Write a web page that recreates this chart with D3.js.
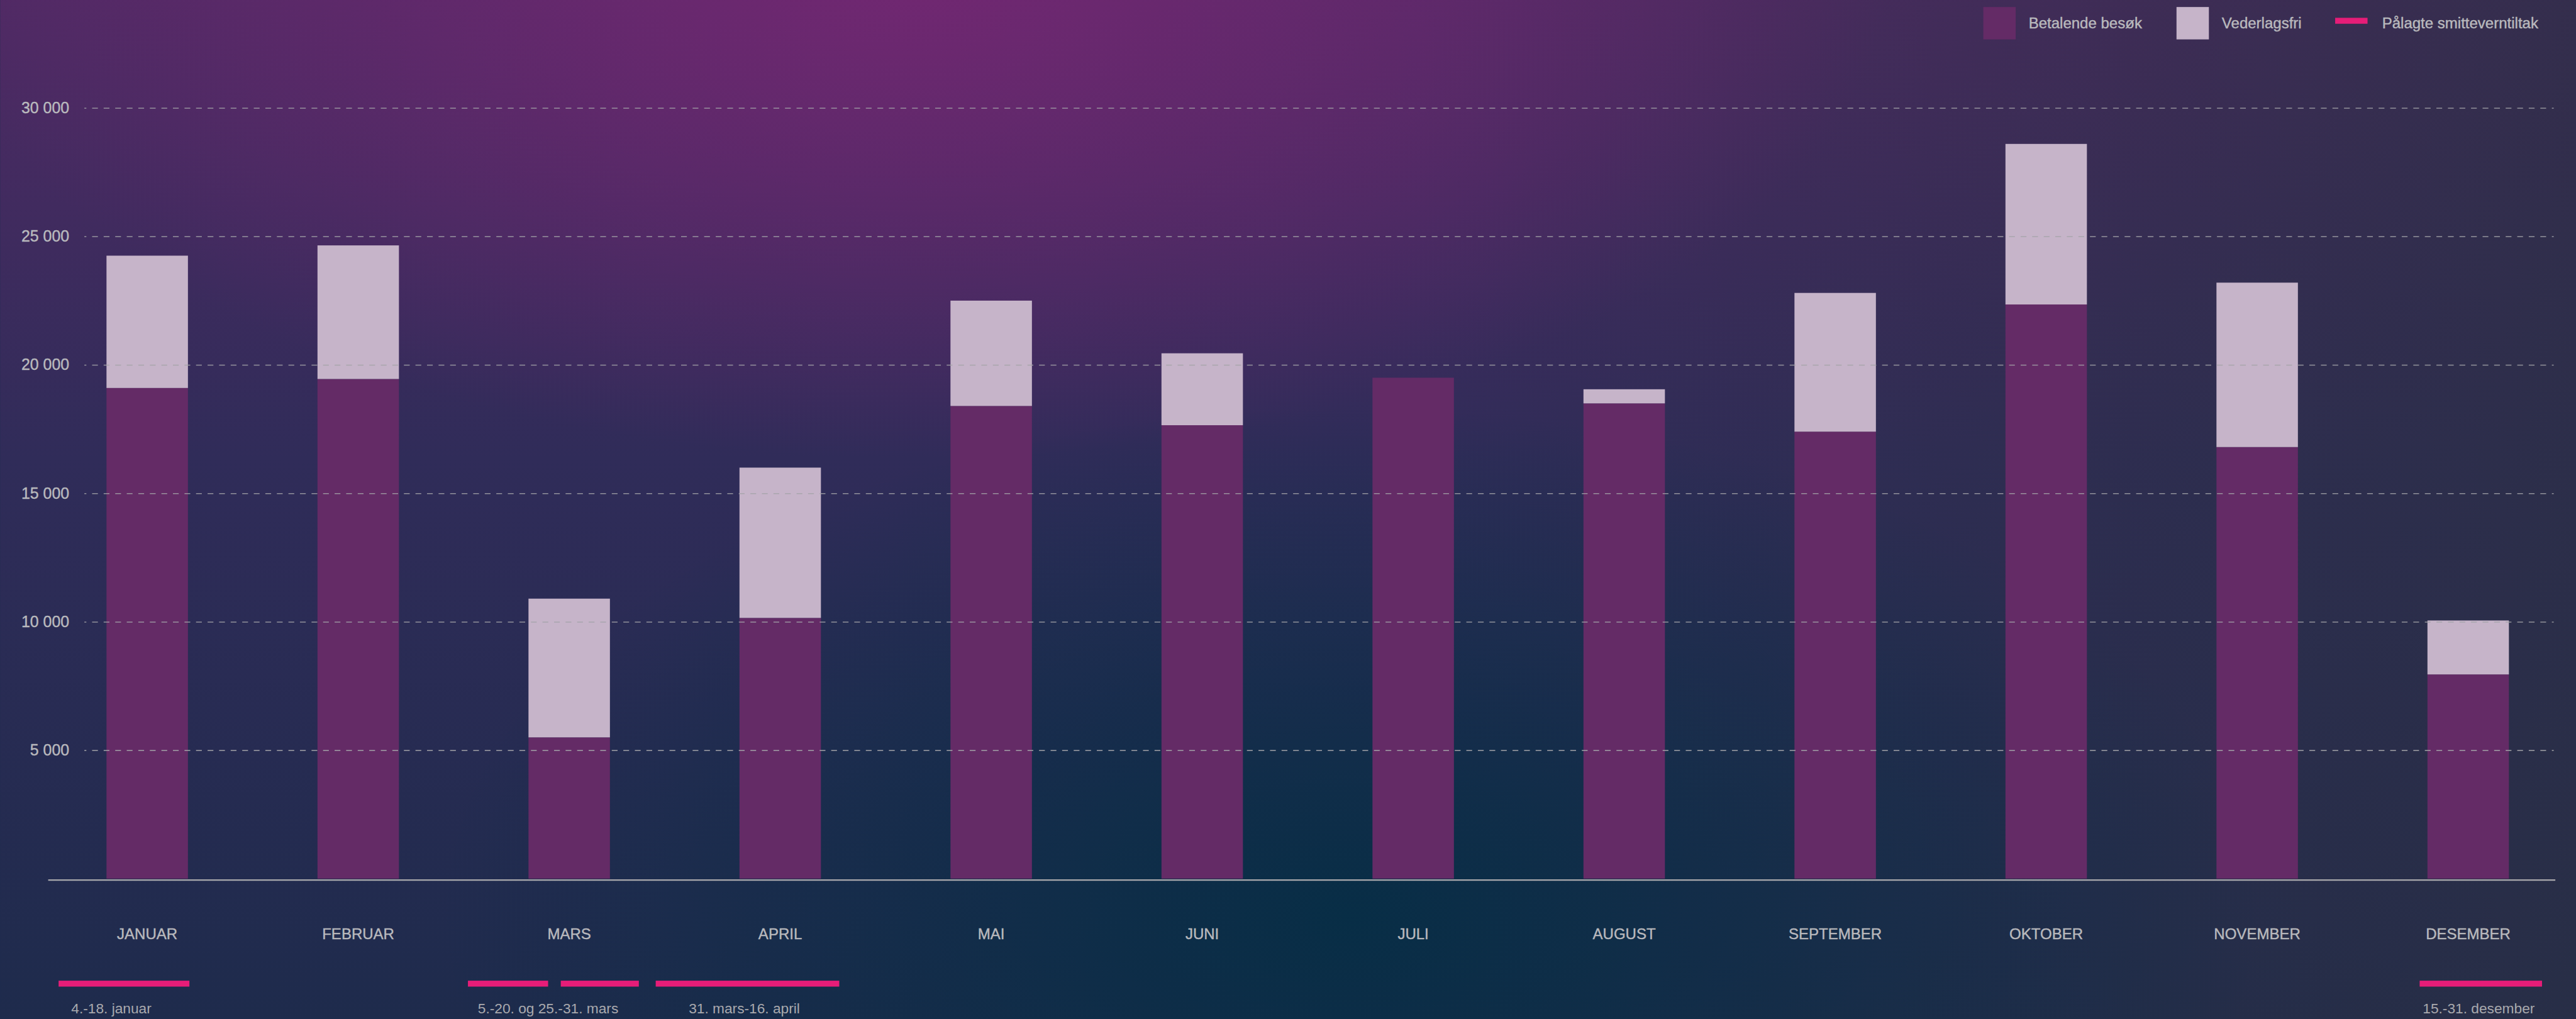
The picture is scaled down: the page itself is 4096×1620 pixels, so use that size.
<!DOCTYPE html>
<html>
<head>
<meta charset="utf-8">
<script src="https://cdn.jsdelivr.net/npm/d3@7"></script>
<style>
  html, body { margin: 0; padding: 0; background: #1c2c4e; overflow: hidden; }
  svg { display: block; }
</style>
</head>
<body>
<div id="chart"></div>
<script>
const months = ["JANUAR", "FEBRUAR", "MARS", "APRIL", "MAI", "JUNI", "JULI", "AUGUST", "SEPTEMBER", "OKTOBER", "NOVEMBER", "DESEMBER"];
const betalende = [19100, 19450, 5500, 10150, 18400, 17650, 19500, 18500, 17400, 22350, 16800, 7950];
const vederlagsfri = [5150, 5200, 5400, 5850, 4100, 2800, 0, 550, 5400, 6250, 6400, 2100];
const yTicks = [5000, 10000, 15000, 20000, 25000, 30000];
const legendLabels = ["Betalende besøk", "Vederlagsfri", "Pålagte smitteverntiltak"];

// periods with imposed measures, in month units (0 = januar, 11 = desember)
const tiltakLabels = ["4.-18. januar", "5.-20. og 25.-31. mars", "31. mars-16. april", "15.-31. desember"];
const tiltakSpans = [
  [[-0.42, 0.20]],
  [[1.52, 1.90], [1.96, 2.33]],
  [[2.41, 3.28]],
  [[10.77, 11.35]]
];
const tiltakLabelAt = [-0.17, 1.90, 2.83, 11.05];

const W = 4773, H = 1888;
const colPaid = "#642b66", colFree = "#c6b4c9", colPink = "#e61d78", colText = "#b9b9bd";
const font = "'Liberation Sans', Arial, sans-serif";

const svg = d3.select("#chart")
  .append("svg")
  .attr("width", 4096)
  .attr("height", 1620)
  .attr("viewBox", `0 0 ${W} ${H}`);

// background
const defs = svg.append("defs");

const base = defs.append("linearGradient").attr("id", "bgBase")
  .attr("x1", 0).attr("y1", 0).attr("x2", 0).attr("y2", 1);
[["0", "#4f2a64"], ["0.45", "#302c59"], ["1", "#1e2b4c"]].forEach(([o, c]) =>
  base.append("stop").attr("offset", o).attr("stop-color", c));

const right = defs.append("linearGradient").attr("id", "bgRight")
  .attr("x1", 0).attr("y1", 0).attr("x2", 1).attr("y2", 0);
right.append("stop").attr("offset", "0.55").attr("stop-color", "#2b2f45").attr("stop-opacity", 0);
right.append("stop").attr("offset", "1").attr("stop-color", "#2b2f45").attr("stop-opacity", 0.75);

function glow(id, cx, cy, rx, ry, color, alpha) {
  const g = defs.append("radialGradient").attr("id", id)
    .attr("gradientUnits", "userSpaceOnUse")
    .attr("cx", 0).attr("cy", 0).attr("r", 1)
    .attr("gradientTransform", `translate(${cx},${cy}) scale(${rx},${ry})`);
  g.append("stop").attr("offset", 0).attr("stop-color", color).attr("stop-opacity", alpha);
  g.append("stop").attr("offset", 1).attr("stop-color", color).attr("stop-opacity", 0);
}
glow("bgPurple", 1700, -50, 1800, 900, "#772774", 0.85);
glow("bgTeal", 2500, 1700, 1700, 950, "#052e45", 0.9);

["bgBase", "bgRight", "bgPurple", "bgTeal"].forEach(id =>
  svg.append("rect").attr("width", W).attr("height", H).attr("fill", `url(#${id})`));

// scales
const x = d3.scaleBand()
  .domain(months)
  .range([77, 4769])
  .paddingInner(0.614)
  .paddingOuter(0.307);

const y = d3.scaleLinear()
  .domain([0, 30000])
  .range([1628, 200]);

const xm = d3.scaleLinear()
  .domain([0, months.length - 1])
  .range([x(months[0]) + x.bandwidth() / 2, x(months[months.length - 1]) + x.bandwidth() / 2]);

const nb = d3.formatLocale({ decimal: ",", thousands: " ", grouping: [3] }).format(",d");

// stacked bars
const rows = months.map((m, i) => ({ month: m, betalende: betalende[i], vederlagsfri: vederlagsfri[i] }));
const series = d3.stack().keys(["betalende", "vederlagsfri"])(rows);
const color = d3.scaleOrdinal().domain(["betalende", "vederlagsfri"]).range([colPaid, colFree]);

svg.append("g")
  .selectAll("g")
  .data(series)
  .join("g")
  .attr("fill", d => color(d.key))
  .selectAll("rect")
  .data(d => d)
  .join("rect")
  .attr("x", d => x(d.data.month))
  .attr("width", x.bandwidth())
  .attr("y", d => y(d[1]))
  .attr("height", d => y(d[0]) - y(d[1]));

// grid lines (on top of bars)
const yAxis = svg.append("g")
  .attr("transform", "translate(156,0)")
  .call(d3.axisLeft(y).tickValues(yTicks).tickSize(-(4732 - 156)).tickFormat(nb).tickPadding(28));
yAxis.select(".domain").remove();
yAxis.selectAll(".tick line")
  .attr("stroke", "#a3a3a8")
  .attr("stroke-opacity", 0.85)
  .attr("stroke-width", 1.8)
  .attr("stroke-dasharray", "10.7 10.7")
  .attr("stroke-dashoffset", 7);
yAxis.selectAll(".tick text")
  .attr("fill", colText)
  .attr("font-family", font)
  .attr("font-size", 29)
  .attr("stroke", colText)
  .attr("stroke-width", 0.5);

// x axis
const xAxis = svg.append("g")
  .attr("transform", "translate(0,1630.5)")
  .call(d3.axisBottom(x).tickSize(0).tickPadding(0));
xAxis.select(".domain").remove();
svg.append("line")
  .attr("x1", 89).attr("x2", 4735)
  .attr("y1", 1630.5).attr("y2", 1630.5)
  .attr("stroke", "#a8a8ac")
  .attr("stroke-width", 2.6);
xAxis.selectAll(".tick text")
  .attr("y", 110)
  .attr("dy", 0)
  .attr("fill", colText)
  .attr("font-family", font)
  .attr("font-size", 28)
  .attr("stroke", colText)
  .attr("stroke-width", 0.5);

// imposed measures
const tg = svg.append("g");
tiltakSpans.forEach((spans, i) => {
  tg.selectAll(null)
    .data(spans)
    .join("rect")
    .attr("x", d => xm(d[0]))
    .attr("width", d => xm(d[1]) - xm(d[0]))
    .attr("y", 1817)
    .attr("height", 11)
    .attr("fill", colPink);
  tg.append("text")
    .attr("x", xm(tiltakLabelAt[i]))
    .attr("y", 1877)
    .attr("text-anchor", "middle")
    .attr("fill", "#a9a9ae")
    .attr("font-family", font)
    .attr("font-size", 26.5)
    .text(tiltakLabels[i]);
});

// legend
const legendX = [3675, 4033, 4327];
const legend = svg.append("g");
legendLabels.forEach((label, i) => {
  if (i < 2) {
    legend.append("rect")
      .attr("x", legendX[i]).attr("y", 13)
      .attr("width", 60).attr("height", 60)
      .attr("fill", i === 0 ? colPaid : colFree);
  } else {
    legend.append("rect")
      .attr("x", legendX[i]).attr("y", 33)
      .attr("width", 60).attr("height", 11)
      .attr("fill", colPink);
  }
  legend.append("text")
    .attr("x", legendX[i] + (i < 2 ? 84 : 87))
    .attr("y", 53)
    .attr("fill", colText)
    .attr("font-family", font)
    .attr("font-size", 28)
    .attr("stroke", colText)
    .attr("stroke-width", 0.5)
    .text(label);
});
</script>
</body>
</html>
